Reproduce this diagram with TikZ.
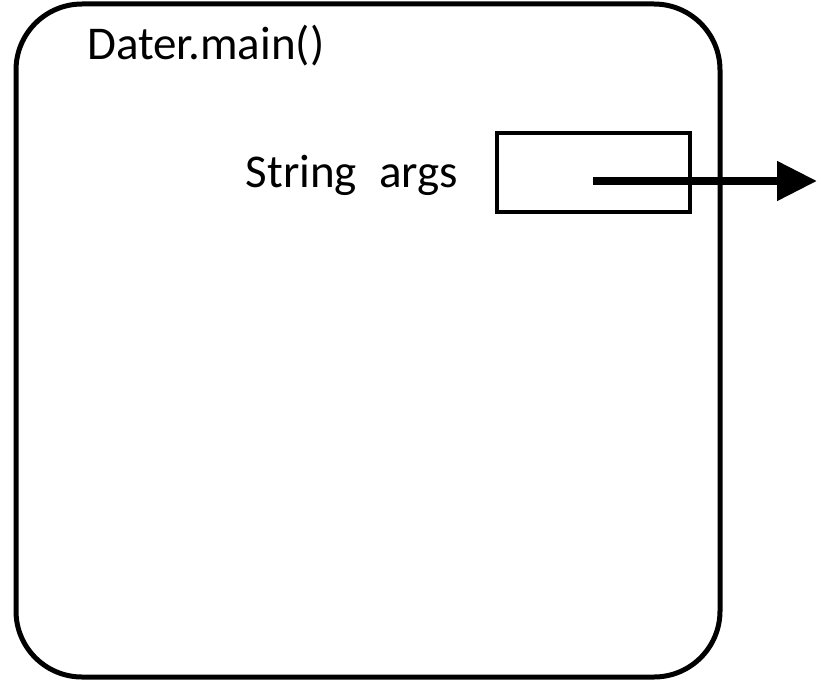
\documentclass[tikz,border=0pt]{standalone}
\usepackage{fontspec}
\setmainfont{Carlito}
\usetikzlibrary{arrows.meta,positioning}
\tikzset{
  frame/.style={draw, line width=5pt, rounded corners=66pt, minimum width=704pt, minimum height=673pt, inner sep=0pt},
  slotbox/.style={draw, line width=4.5pt, minimum width=193pt, minimum height=79pt, inner sep=0pt},
  lbl/.style={font=\fontsize{47}{54}\selectfont, inner sep=0pt},
  ref/.style={line width=8pt, -{Triangle[length=40pt,width=38pt]}}
}
\begin{document}
\begin{tikzpicture}[x=1pt,y=-1pt]
  \useasboundingbox (0,0) rectangle (821,682);
  % the frame of the method
  \node[frame] (frame) at (368,340.5) {};
  \node[lbl, anchor=base west] (name) at (87,60) {Dater.main()};
  % the parameter and its slot
  \node[lbl, anchor=base east] (param) at (458,187) {String\hspace{22pt}args};
  \node[slotbox] (slot) at (593.5,172.5) {};
  % the reference leaving the slot
  \coordinate (start) at (593,181);
  \coordinate (target) at (817,181);
  \draw[ref] (start) -- (target);
\end{tikzpicture}
\end{document}
